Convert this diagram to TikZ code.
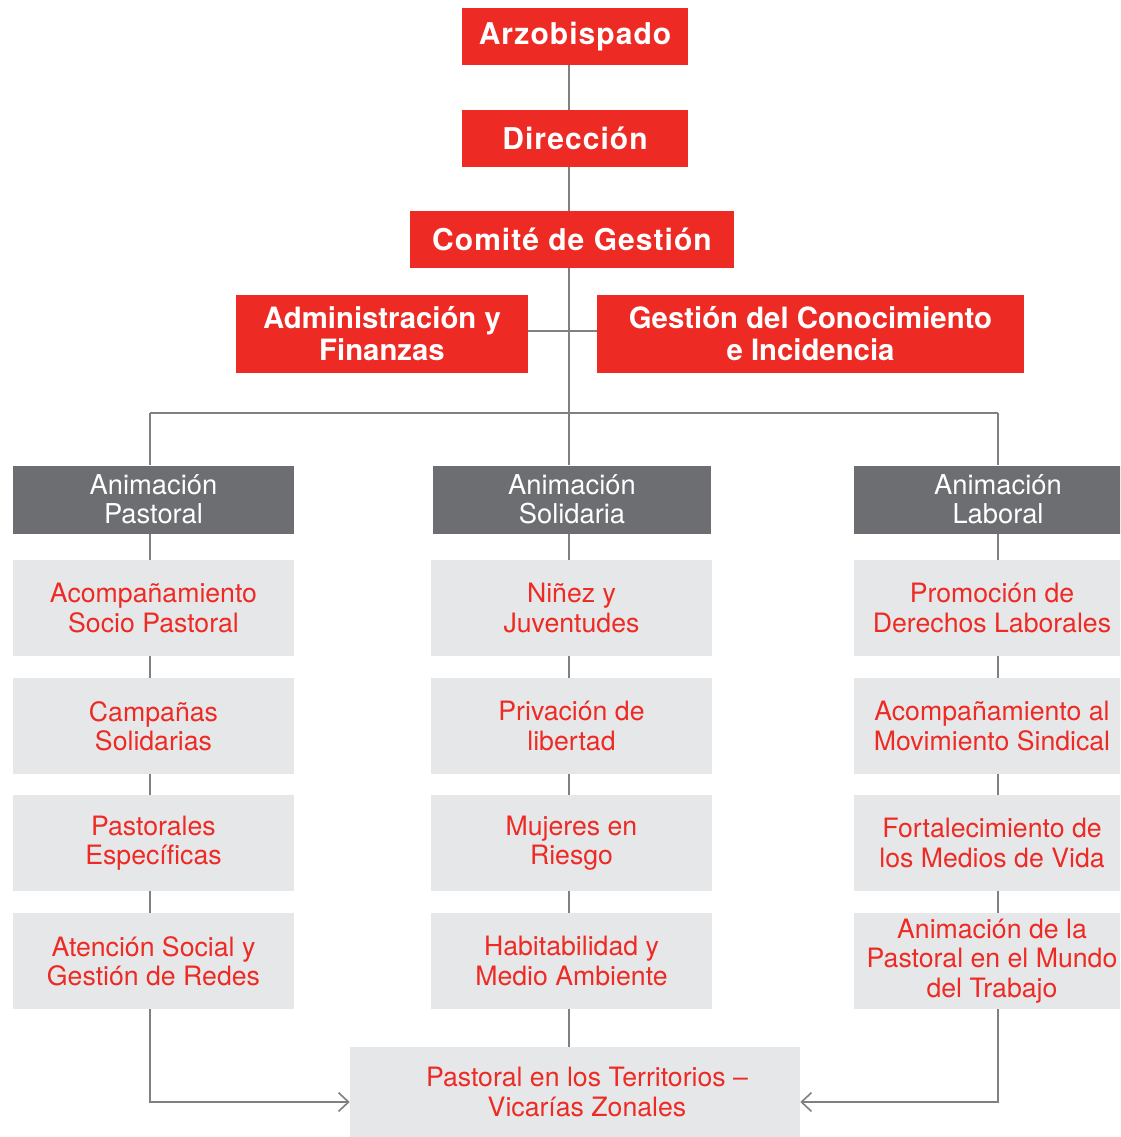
\documentclass[tikz,border=0pt]{standalone}
\usepackage{fontspec}
\setmainfont{TeX Gyre Heros}
\newfontfamily\spacedbold[LetterSpace=3.5]{TeX Gyre Heros}
\usetikzlibrary{arrows.meta}
\definecolor{cred}{HTML}{EE2A24}
\definecolor{cdark}{HTML}{6D6E71}
\definecolor{clight}{HTML}{E6E7E8}
\definecolor{cline}{HTML}{808080}
\begin{document}
\begin{tikzpicture}[x=0.75pt,y=-0.75pt,
  redbox/.style={fill=cred,text=white,font=\bfseries\fontsize{22}{24}\selectfont,align=center,inner sep=0pt},
  topbox/.style={redbox,font=\spacedbold\bfseries\fontsize{22.5}{24}\selectfont},
  headbox/.style={fill=cdark,text=white,font=\fontsize{20.5}{22}\selectfont,align=center,inner sep=0pt,minimum height=51pt},
  itembox/.style={fill=clight,text=cred,font=\fontsize{20}{22}\selectfont,align=center,inner sep=0pt,minimum height=72pt},
  itemtext/.style={text=cred,font=\fontsize{20}{22}\selectfont,align=center,inner sep=0pt},
  conn/.style={draw=cline,line width=1.2pt},
  arr/.style={conn,-{Straight Barb[length=7.5pt,width=14pt,line width=1.2pt]}}]
\clip (0,0) rectangle (1120,1137);
\fill[white] (0,0) rectangle (1120,1137);
% top red boxes
\node[topbox,minimum width=169.5pt,minimum height=42.75pt] (arz) at (575,36.5) {Arzobispado};
\node[topbox,minimum width=169.5pt,minimum height=42.75pt] (dir) at (575,138.5) {Dirección};
\node[topbox,minimum width=243pt,minimum height=42.75pt] (com) at (572,239.5) {Comité de Gestión};
\node[redbox,minimum width=219pt,minimum height=58.5pt] (adm) at (382,334) {Administración y\\Finanzas};
\node[redbox,minimum width=320.25pt,minimum height=58.5pt] (ges) at (810.5,334) {Gestión del Conocimiento\\e Incidencia};
% headers
\node[headbox,minimum width=210.75pt] (hp) at (153.5,499.5) {Animación\\Pastoral};
\node[headbox,minimum width=208.5pt] (hs) at (572,499.5) {Animación\\Solidaria};
\node[headbox,minimum width=216pt] (hl) at (998,499.5) {Animación\\Laboral};
% left column
\node[itembox,minimum width=210.75pt] (l1) at (153.5,608) {Acompañamiento\\Socio Pastoral};
\node[itembox,minimum width=210.75pt] (l2) at (153.5,726) {Campañas\\Solidarias};
\node[itembox,minimum width=210.75pt] (l3) at (153.5,843) {Pastorales\\Específicas};
\node[itembox,minimum width=210.75pt] (l4) at (153.5,961) {Atención Social y\\Gestión de Redes};
% middle column
\node[itembox,minimum width=210.75pt] (m1) at (571.5,608) {Niñez y\\Juventudes};
\node[itembox,minimum width=210.75pt] (m2) at (571.5,726) {Privación de\\libertad};
\node[itembox,minimum width=210.75pt] (m3) at (571.5,843) {Mujeres en\\Riesgo};
\node[itembox,minimum width=210.75pt] (m4) at (571.5,961) {Habitabilidad y\\Medio Ambiente};
% right column
\node[itembox,minimum width=207pt] (r1) at (992,608) {Promoción de\\Derechos Laborales};
\node[itembox,minimum width=207pt] (r2) at (992,726) {Acompañamiento al\\Movimiento Sindical};
\node[itembox,minimum width=207pt] (r3) at (992,843) {Fortalecimiento de\\los Medios de Vida};
\node[itembox,minimum width=207pt] (r4) at (992,961) {Animación de la\\Pastoral en el Mundo\\del Trabajo};
% bottom
\node[fill=clight,inner sep=0pt,minimum width=337.5pt,minimum height=67.5pt] (bot) at (575,1092) {};
\node[itemtext] (bott) at (587,1092) {Pastoral en los Territorios –\\Vicarías Zonales};
% coordinates
\coordinate (t) at (569,413);
\coordinate (bl) at (150,413);
\coordinate (br) at (998,413);
% connectors
\draw[conn] (arz.south -| t) -- (dir.north -| t);
\draw[conn] (dir.south -| t) -- (com.north -| t);
\draw[conn] (com.south -| t) -- (t);
\draw[conn] ([yshift=2.25pt]adm.east) -- ([yshift=2.25pt]ges.west);
\draw[conn] (bl) -- (br);
\draw[conn] (bl) -- (hp.north -| bl);
\draw[conn] (t) -- (hs.north -| t);
\draw[conn] (br) -- (hl.north -| br);
\draw[conn] (hp.south -| bl) -- (l1.north -| bl);
\draw[conn] (l1.south -| bl) -- (l2.north -| bl);
\draw[conn] (l2.south -| bl) -- (l3.north -| bl);
\draw[conn] (l3.south -| bl) -- (l4.north -| bl);
\draw[conn] (hs.south -| t) -- (m1.north -| t);
\draw[conn] (m1.south -| t) -- (m2.north -| t);
\draw[conn] (m2.south -| t) -- (m3.north -| t);
\draw[conn] (m3.south -| t) -- (m4.north -| t);
\draw[conn] (m4.south -| t) -- (bot.north -| t);
\draw[conn] (hl.south -| br) -- (r1.north -| br);
\draw[conn] (r1.south -| br) -- (r2.north -| br);
\draw[conn] (r2.south -| br) -- (r3.north -| br);
\draw[conn] (r3.south -| br) -- (r4.north -| br);
\draw[arr] (l4.south -| bl) |- ([yshift=-7.5pt]bot.west);
\draw[arr] (r4.south -| br) |- ([yshift=-7.5pt]bot.east);
\end{tikzpicture}
\end{document}
